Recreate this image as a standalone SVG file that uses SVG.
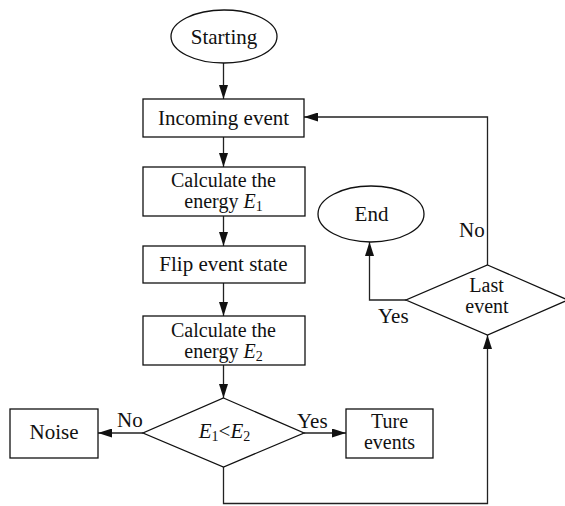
<svg xmlns="http://www.w3.org/2000/svg" width="565" height="506" viewBox="0 0 565 506">
<defs>
<style>
.s{fill:#fff;stroke:#111;stroke-width:1.3}
.t{font-family:"Liberation Serif","Times New Roman",serif;font-size:21px;fill:#111;text-anchor:middle}
.t2{font-size:20px}
.l{font-family:"Liberation Serif","Times New Roman",serif;font-size:21px;fill:#111}
.sub{font-size:14px;font-style:normal}
.c{fill:none;stroke:#222;stroke-width:1.3}
</style>
<marker id="arr" viewBox="0 0 14 9" refX="14" refY="4.5" markerWidth="14" markerHeight="9" markerUnits="userSpaceOnUse" orient="auto">
<path d="M0,0 L14,4.5 L0,9 z" fill="#111"/>
</marker>
</defs>
<rect width="565" height="506" fill="#fff"/>
<g id="connectors">
<path class="c" d="M223.5,63 V99" marker-end="url(#arr)"/>
<path class="c" d="M223.5,137 V167" marker-end="url(#arr)"/>
<path class="c" d="M223.5,216 V246" marker-end="url(#arr)"/>
<path class="c" d="M223.5,283 V316" marker-end="url(#arr)"/>
<path class="c" d="M223.5,365 V398" marker-end="url(#arr)"/>
<path class="c" d="M143,433 H98" marker-end="url(#arr)"/>
<path class="c" d="M304,433 H346" marker-end="url(#arr)"/>
<path class="c" d="M223.5,467 V503.5 H487.5 V335" marker-end="url(#arr)"/>
<path class="c" d="M406,300 H369.5 V242" marker-end="url(#arr)"/>
<path class="c" d="M487.5,265 V117 H304" marker-end="url(#arr)"/>
<text class="l" x="117" y="427">No</text>
<text class="l" x="297" y="428">Yes</text>
<text class="l" x="378" y="323">Yes</text>
<text class="l" x="459" y="237">No</text>
</g>
<g id="start">
<ellipse class="s" cx="224" cy="36.5" rx="53" ry="26.5"/>
<text class="t" x="224" y="44">Starting</text>
</g>
<g id="incoming">
<rect class="s" x="143" y="99" width="161" height="38"/>
<text class="t" x="223.5" y="125">Incoming event</text>
</g>
<g id="calcE1">
<rect class="s" x="143" y="167" width="162" height="49"/>
<text class="t t2" x="223.5" y="187">Calculate the</text>
<text class="t t2" x="223.5" y="208">energy <tspan font-style="italic">E</tspan><tspan class="sub" dy="3">1</tspan></text>
</g>
<g id="flip">
<rect class="s" x="143" y="246" width="162" height="37"/>
<text class="t" x="223.5" y="271">Flip event state</text>
</g>
<g id="calcE2">
<rect class="s" x="143" y="316" width="162" height="49"/>
<text class="t t2" x="223.5" y="336.5">Calculate the</text>
<text class="t t2" x="223.5" y="357.5">energy <tspan font-style="italic">E</tspan><tspan class="sub" dy="3">2</tspan></text>
</g>
<g id="compare">
<polygon class="s" points="223.5,398 304,433 223.5,467 143,433"/>
<text class="t" x="224.5" y="437.5"><tspan font-style="italic">E</tspan><tspan class="sub" dy="3">1</tspan><tspan dy="-3">&lt;</tspan><tspan font-style="italic">E</tspan><tspan class="sub" dy="3">2</tspan></text>
</g>
<g id="noise">
<rect class="s" x="10" y="409" width="88" height="49"/>
<text class="t" x="54" y="439">Noise</text>
</g>
<g id="ture">
<rect class="s" x="346" y="409" width="87" height="49"/>
<text class="t t2" x="389.5" y="428">Ture</text>
<text class="t t2" x="389.5" y="449">events</text>
</g>
<g id="last">
<polygon class="s" points="487.5,265 568,300 487.5,335 406,300"/>
<text class="t t2" x="486.5" y="292">Last</text>
<text class="t t2" x="487" y="313">event</text>
</g>
<g id="end">
<ellipse class="s" cx="371" cy="214" rx="53" ry="28"/>
<text class="t" x="371.5" y="221">End</text>
</g>
</svg>
